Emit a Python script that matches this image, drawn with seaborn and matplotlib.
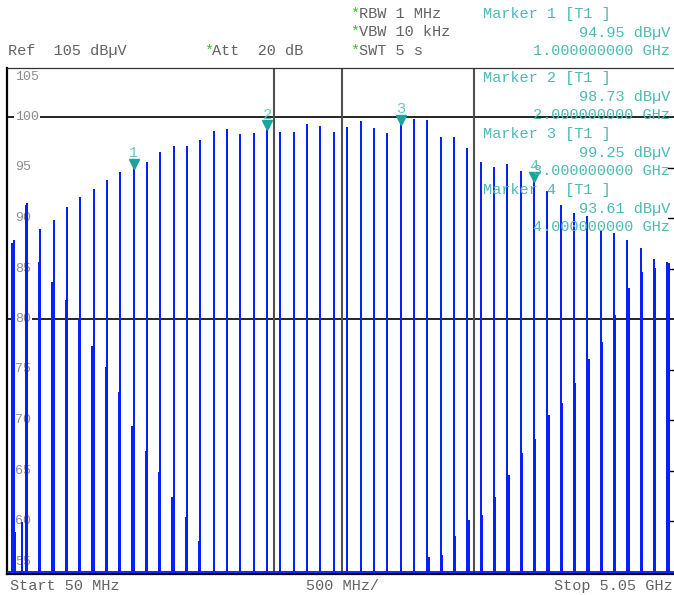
import numpy as np
import pandas as pd
import matplotlib
matplotlib.use("Agg")
import matplotlib.pyplot as plt
import matplotlib.transforms as mtransforms
import seaborn as sns

# ---- trace data -------------------------------------------------------------
# harmonic comb lines (MHz) and their peak levels (dBµV)
harmonic_mhz = [100, 200, 300, 400, 500, 600, 700, 800, 900, 1000,
                1100, 1200, 1300, 1400, 1500, 1600, 1700, 1800, 1900, 2000,
                2100, 2200, 2300, 2400, 2500, 2600, 2700, 2800, 2900, 3000,
                3100, 3200, 3300, 3400, 3500, 3600, 3700, 3800, 3900, 4000,
                4100, 4200, 4300, 4400, 4500, 4600, 4700, 4800, 4900, 5000]
peak_dbuv = [87.7, 91.4, 88.8, 89.7, 91.0, 92.0, 92.8, 93.7, 94.5, 94.95,
             95.4, 96.4, 97.0, 97.0, 97.6, 98.5, 98.7, 98.2, 98.3, 98.73,
             98.4, 98.45, 99.2, 99.05, 98.4, 98.95, 99.5, 98.8, 98.3, 99.25,
             99.75, 99.6, 97.9, 97.9, 96.8, 95.4, 95.0, 95.2, 94.6, 93.61,
             92.6, 91.2, 90.4, 90.1, 88.6, 88.4, 87.7, 86.9, 85.8, 85.5]
# level of the neighbouring trace bin next to each line (nan = inside the floor)
nan = float("nan")
shoulder_dbuv = [87.4, 91.2, 85.5, 83.6, 81.8, 79.9, 77.2, 75.1, 72.7, 69.3,
                 66.8, 64.8, 62.3, 60.3, 57.9, nan, nan, nan, nan, nan,
                 nan, nan, nan, nan, nan, nan, nan, nan, nan, nan,
                 nan, 56.3, 56.5, 58.4, 60.0, 60.5, 62.3, 64.5, 66.6, 68.0,
                 70.4, 71.6, 73.6, 75.9, 77.6, 80.3, 83.0, 84.6, 85.0, 85.4]
spur_mhz = [110, 162]
spur_dbuv = [58.8, 59.8]
floor_dbuv = 55.0

# ---- display settings --------------------------------------------------------
start_mhz, stop_mhz = 50, 5050
level_ticks = [105, 100, 95, 90, 85, 80, 75, 70, 65, 60, 55]
right_ticks = [95, 90, 85, 75, 70, 65, 60]
grid_levels = [100, 80]
grid_freqs_mhz = [2050, 2562, 3548]
marker_ids = [1, 2, 3, 4]
marker_mhz = [1000, 2000, 3000, 4000]
marker_dbuv = [peak_dbuv[harmonic_mhz.index(f)] for f in marker_mhz]

W, H, DPI = 674, 595, 100
MONO = ["Liberation Mono", "DejaVu Sans Mono"]
TRACE = "#0820ff"
TEAL = "#4dbab2"
TEAL_MK = "#1ca39b"
GREY = "#636363"
GREEN = "#22cc22"

sns.set_theme(style="white")
plt.rcParams["font.family"] = MONO

# ---- build the analyzer trace polyline --------------------------------------
events = []
for f, p, s in zip(harmonic_mhz, peak_dbuv, shoulder_dbuv):
    side = -1 if f <= 2500 else 1
    events.append((f, p))
    if not np.isnan(s):
        events.append((f + side * 11, s))
events += list(zip(spur_mhz, spur_dbuv))
events.sort()

tx, ty = [start_mhz], [floor_dbuv]
for f, v in events:
    tx += [f, f, f]
    ty += [floor_dbuv, v, floor_dbuv]
tx.append(stop_mhz)
ty.append(floor_dbuv)
trace = pd.DataFrame({"freq": tx, "level": ty})

# ---- figure -----------------------------------------------------------------
fig = plt.figure(figsize=(W / DPI, H / DPI), dpi=DPI)
fig.patch.set_facecolor("white")
ax_top_px, ax_bot_px, ax_left_px = 68, 574, 7
ax = fig.add_axes([ax_left_px / W, (H - ax_bot_px) / H,
                   (W - ax_left_px) / W, (ax_bot_px - ax_top_px) / H])
ax.set_facecolor("white")

px_per_db = 10.1
ax.set_ylim(floor_dbuv - (ax_bot_px - 571.5) / px_per_db,
            100 + (117 - ax_top_px) / px_per_db)
ax.set_xlim(start_mhz, stop_mhz)

sns.lineplot(data=trace, x="freq", y="level", sort=False, estimator=None,
             color=TRACE, linewidth=1.35, legend=False, ax=ax, zorder=4)

# grid / display lines
for lv in grid_levels:
    ax.axhline(lv, color="black", lw=1.2, zorder=1.5)
for fm in grid_freqs_mhz:
    ax.axvline(fm, color="#505050", lw=1.5, zorder=1.5)
for lv in right_ticks:
    ax.plot([stop_mhz - 45, stop_mhz], [lv, lv], color="black", lw=1.0, zorder=1.5)

# level labels inside the grid
ylab = ("axes fraction", "data")
for lv in level_ticks:
    dy = 0
    if lv == level_ticks[0]:
        dy = -7.6
    elif lv == level_ticks[-1]:
        dy = 6.9
    ax.annotate(str(lv), xy=(0, lv), xycoords=ylab, xytext=(5.8, dy),
                textcoords="offset points", ha="left", va="center",
                fontsize=9.5, color="#8c8c8c", zorder=2.5,
                bbox=dict(boxstyle="square,pad=0.05", fc="white", ec="none"))

ax.set_xticks([])
ax.set_yticks([])
ax.set_xlabel("")
ax.set_ylabel("")
for side in ["left", "bottom", "top", "right"]:
    ax.spines[side].set_visible(False)
ax.spines["left"].set_visible(True)
ax.spines["left"].set_color("black")
ax.spines["left"].set_linewidth(1.6)
ax.spines["bottom"].set_visible(True)
ax.spines["bottom"].set_color("black")
ax.spines["bottom"].set_linewidth(1.6)
ax.spines["top"].set_visible(True)
ax.spines["top"].set_color("#333333")
ax.spines["top"].set_linewidth(0.9)

# markers: triangle tip sits on the measured peak
lift = mtransforms.ScaledTranslation(0, 4.5 / DPI, fig.dpi_scale_trans)
ax.plot(marker_mhz, marker_dbuv, linestyle="none", marker="v", ms=6.8,
        color=TEAL_MK, mec=TEAL_MK, transform=ax.transData + lift, zorder=6)
for mid, f, v in zip(marker_ids, marker_mhz, marker_dbuv):
    ax.annotate(str(mid), xy=(f, v), xytext=(0, 11), textcoords="offset points",
                ha="center", va="center", fontsize=11, color="#66c8c0", zorder=5,
                bbox=dict(boxstyle="square,pad=0.05", fc="white", ec="none")
                if mid == 4 else None)


# ---- header / footer text ----------------------------------------------------
def put(x, y, s, **kw):
    kw.setdefault("va", "center")
    kw.setdefault("fontsize", 11)
    fig.text(x / W, 1 - y / H, s, **kw)


for y, s in zip([14, 32, 51], ["RBW 1 MHz", "VBW 10 kHz", "SWT 5 s"]):
    put(350, y, "*", color=GREEN)
    put(359, y, s, color=GREY)
put(8, 51, "Ref  105 dBµV", color=GREY)
put(204, 51, "*", color=GREEN)
put(212, 51, "Att  20 dB", color=GREY)

block_rows = [14, 78, 134, 190]
step = 18.5
for mid, f, v, y0 in zip(marker_ids, marker_mhz, marker_dbuv, block_rows):
    put(483, y0, f"Marker {mid} [T1 ]", color=TEAL, zorder=1)
    put(670, y0 + step, f"{v:.2f} dBµV", color=TEAL, ha="right", zorder=1)
    put(670, y0 + 2 * step, f"{f / 1000:.9f} GHz", color=TEAL, ha="right", zorder=1)

put(10, 586, "Start 50 MHz", color=GREY)
put(342, 586, "500 MHz/", color=GREY, ha="center")
put(673, 586, "Stop 5.05 GHz", color=GREY, ha="right")

fig.savefig("out.png", dpi=DPI, facecolor="white")
